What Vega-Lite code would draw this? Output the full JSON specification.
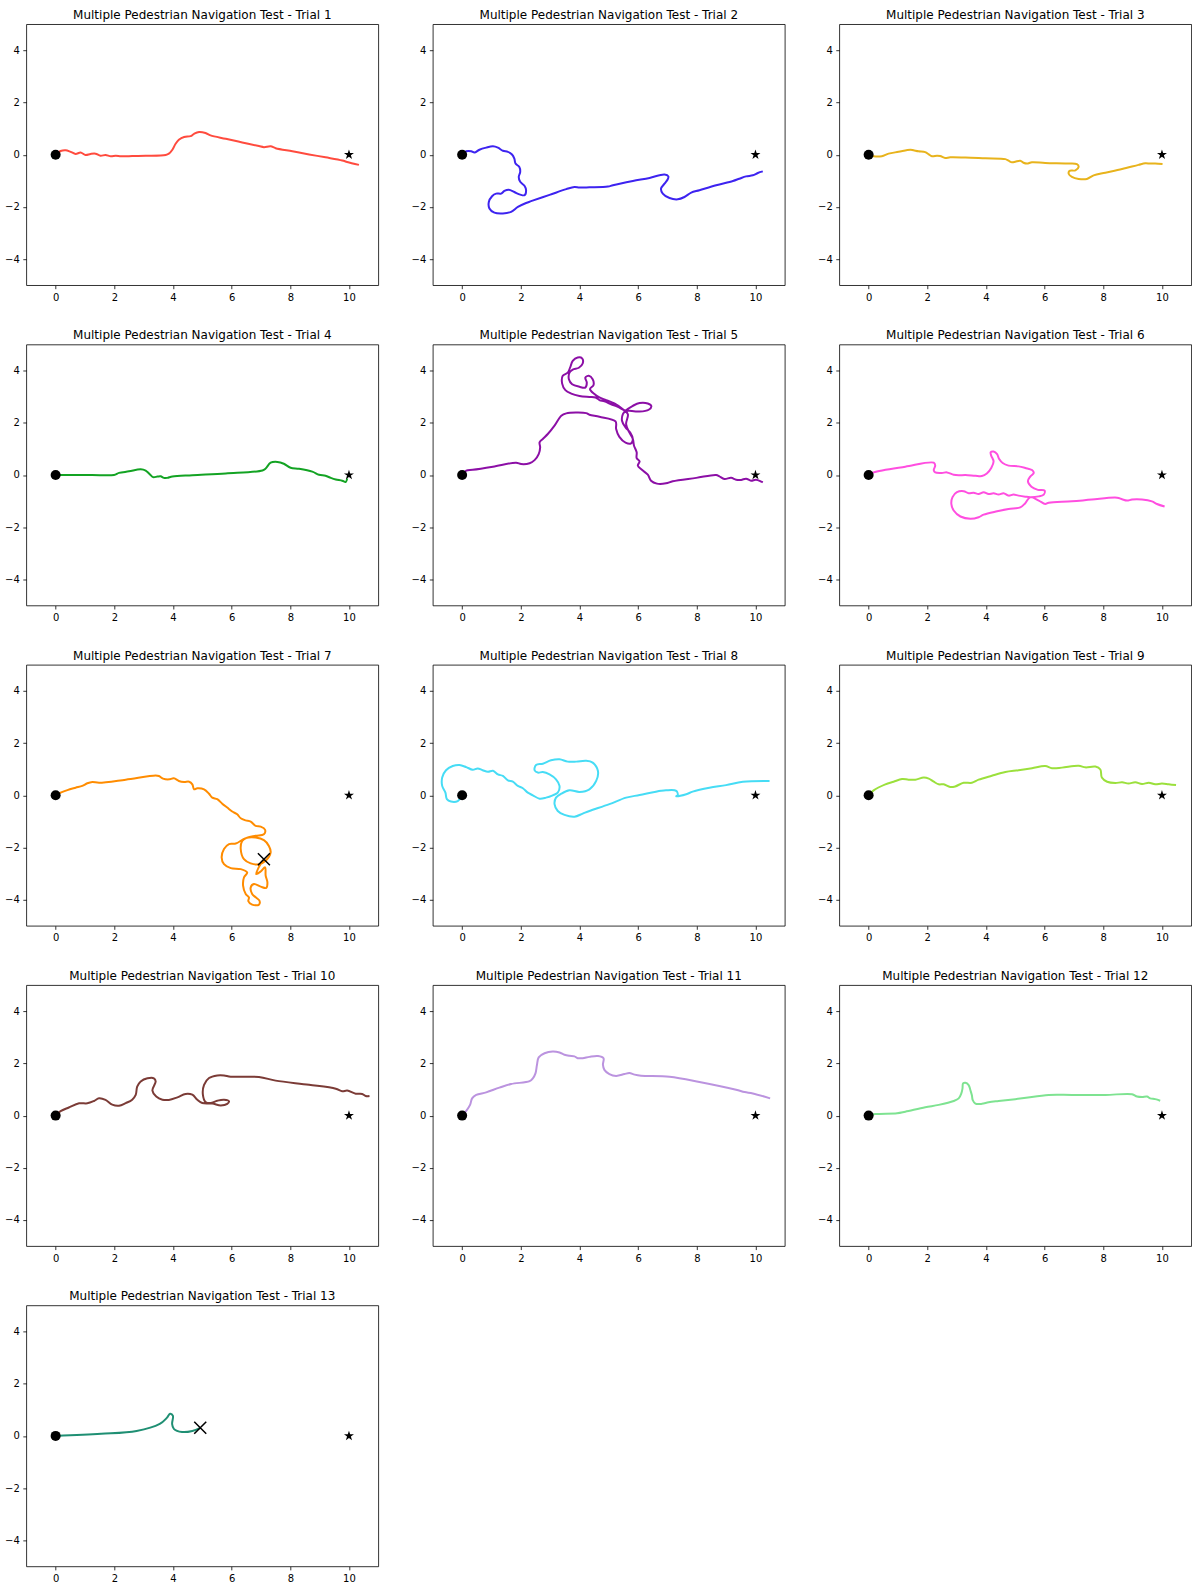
{
"$schema":"https://vega.github.io/schema/vega-lite/v6.json",
"padding":{"left":3.3,"top":8.2,"right":0,"bottom":0},
"background":"white",
"data":{"values":[
{"t":1,"i":0,"x":0,"y":0},{"t":1,"i":1,"x":0.17,"y":0.14},{"t":1,"i":2,"x":0.34,"y":0.17},{"t":1,"i":3,"x":0.51,"y":0.11},{"t":1,"i":4,"x":0.68,"y":0.03},{"t":1,"i":5,"x":0.85,"y":0.08},{"t":1,"i":6,"x":1.02,"y":-0.01},{"t":1,"i":7,"x":1.19,"y":0.03},{"t":1,"i":8,"x":1.36,"y":0.04},{"t":1,"i":9,"x":1.53,"y":-0.04},{"t":1,"i":10,"x":1.70,"y":-0.01},{"t":1,"i":11,"x":1.88,"y":-0.06},{"t":1,"i":12,"x":2.05,"y":-0.04},{"t":1,"i":13,"x":2.22,"y":-0.06},{"t":1,"i":14,"x":2.39,"y":-0.06},{"t":1,"i":15,"x":2.61,"y":-0.05},{"t":1,"i":16,"x":3.07,"y":-0.04},{"t":1,"i":17,"x":3.75,"y":-0.01},{"t":1,"i":18,"x":3.86,"y":0.04},{"t":1,"i":19,"x":3.98,"y":0.19},{"t":1,"i":20,"x":4.09,"y":0.42},{"t":1,"i":21,"x":4.20,"y":0.57},{"t":1,"i":22,"x":4.38,"y":0.68},{"t":1,"i":23,"x":4.60,"y":0.71},{"t":1,"i":24,"x":4.72,"y":0.80},{"t":1,"i":25,"x":4.89,"y":0.87},{"t":1,"i":26,"x":5.11,"y":0.83},{"t":1,"i":27,"x":5.28,"y":0.74},{"t":1,"i":28,"x":5.80,"y":0.61},{"t":1,"i":29,"x":6.36,"y":0.47},{"t":1,"i":30,"x":6.93,"y":0.33},{"t":1,"i":31,"x":7.10,"y":0.29},{"t":1,"i":32,"x":7.33,"y":0.32},{"t":1,"i":33,"x":7.50,"y":0.25},{"t":1,"i":34,"x":8.07,"y":0.13},{"t":1,"i":35,"x":8.64,"y":0.01},{"t":1,"i":36,"x":9.20,"y":-0.10},{"t":1,"i":37,"x":9.77,"y":-0.22},{"t":1,"i":38,"x":9.94,"y":-0.28},{"t":1,"i":39,"x":10.34,"y":-0.39},
{"t":2,"i":0,"x":0,"y":0},{"t":2,"i":1,"x":0.14,"y":0.13},{"t":2,"i":2,"x":0.31,"y":0.13},{"t":2,"i":3,"x":0.42,"y":0.08},{"t":2,"i":4,"x":0.59,"y":0.19},{"t":2,"i":5,"x":0.82,"y":0.27},{"t":2,"i":6,"x":1.05,"y":0.32},{"t":2,"i":7,"x":1.22,"y":0.27},{"t":2,"i":8,"x":1.39,"y":0.15},{"t":2,"i":9,"x":1.56,"y":0.11},{"t":2,"i":10,"x":1.70,"y":0.01},{"t":2,"i":11,"x":1.78,"y":-0.15},{"t":2,"i":12,"x":1.82,"y":-0.34},{"t":2,"i":13,"x":1.95,"y":-0.47},{"t":2,"i":14,"x":1.98,"y":-0.66},{"t":2,"i":15,"x":1.93,"y":-0.85},{"t":2,"i":16,"x":1.98,"y":-1.04},{"t":2,"i":17,"x":2.13,"y":-1.20},{"t":2,"i":18,"x":2.18,"y":-1.36},{"t":2,"i":19,"x":2.13,"y":-1.55},{"t":2,"i":20,"x":1.98,"y":-1.53},{"t":2,"i":21,"x":1.78,"y":-1.43},{"t":2,"i":22,"x":1.59,"y":-1.34},{"t":2,"i":23,"x":1.44,"y":-1.39},{"t":2,"i":24,"x":1.33,"y":-1.49},{"t":2,"i":25,"x":1.16,"y":-1.49},{"t":2,"i":26,"x":1.02,"y":-1.59},{"t":2,"i":27,"x":0.91,"y":-1.81},{"t":2,"i":28,"x":0.93,"y":-2.06},{"t":2,"i":29,"x":1.10,"y":-2.22},{"t":2,"i":30,"x":1.39,"y":-2.25},{"t":2,"i":31,"x":1.67,"y":-2.19},{"t":2,"i":32,"x":1.90,"y":-2.00},{"t":2,"i":33,"x":2.18,"y":-1.85},{"t":2,"i":34,"x":2.35,"y":-1.78},{"t":2,"i":35,"x":2.98,"y":-1.54},{"t":2,"i":36,"x":3.55,"y":-1.32},{"t":2,"i":37,"x":3.83,"y":-1.24},{"t":2,"i":38,"x":4.00,"y":-1.26},{"t":2,"i":39,"x":4.34,"y":-1.25},{"t":2,"i":40,"x":4.97,"y":-1.22},{"t":2,"i":41,"x":5.14,"y":-1.17},{"t":2,"i":42,"x":5.82,"y":-1.01},{"t":2,"i":43,"x":6.39,"y":-0.89},{"t":2,"i":44,"x":6.90,"y":-0.76},{"t":2,"i":45,"x":7.03,"y":-0.83},{"t":2,"i":46,"x":7.01,"y":-0.94},{"t":2,"i":47,"x":6.90,"y":-1.11},{"t":2,"i":48,"x":6.78,"y":-1.30},{"t":2,"i":49,"x":6.84,"y":-1.49},{"t":2,"i":50,"x":7.07,"y":-1.66},{"t":2,"i":51,"x":7.35,"y":-1.71},{"t":2,"i":52,"x":7.58,"y":-1.62},{"t":2,"i":53,"x":7.81,"y":-1.45},{"t":2,"i":54,"x":8.09,"y":-1.36},{"t":2,"i":55,"x":8.66,"y":-1.17},{"t":2,"i":56,"x":9.23,"y":-1.01},{"t":2,"i":57,"x":9.45,"y":-0.92},{"t":2,"i":58,"x":9.68,"y":-0.83},{"t":2,"i":59,"x":9.91,"y":-0.79},{"t":2,"i":60,"x":10.08,"y":-0.70},{"t":2,"i":61,"x":10.25,"y":-0.64},
{"t":3,"i":0,"x":0,"y":0},{"t":3,"i":1,"x":0.17,"y":-0.06},{"t":3,"i":2,"x":0.45,"y":-0.06},{"t":3,"i":3,"x":0.68,"y":0.04},{"t":3,"i":4,"x":1.02,"y":0.11},{"t":3,"i":5,"x":1.42,"y":0.19},{"t":3,"i":6,"x":1.53,"y":0.17},{"t":3,"i":7,"x":1.70,"y":0.13},{"t":3,"i":8,"x":1.93,"y":0.10},{"t":3,"i":9,"x":2.05,"y":0.01},{"t":3,"i":10,"x":2.16,"y":-0.06},{"t":3,"i":11,"x":2.33,"y":-0.04},{"t":3,"i":12,"x":2.44,"y":-0.05},{"t":3,"i":13,"x":2.61,"y":-0.13},{"t":3,"i":14,"x":2.78,"y":-0.10},{"t":3,"i":15,"x":3.30,"y":-0.11},{"t":3,"i":16,"x":3.98,"y":-0.14},{"t":3,"i":17,"x":4.66,"y":-0.17},{"t":3,"i":18,"x":4.77,"y":-0.23},{"t":3,"i":19,"x":4.89,"y":-0.29},{"t":3,"i":20,"x":5.00,"y":-0.27},{"t":3,"i":21,"x":5.17,"y":-0.23},{"t":3,"i":22,"x":5.28,"y":-0.31},{"t":3,"i":23,"x":5.40,"y":-0.34},{"t":3,"i":24,"x":5.57,"y":-0.29},{"t":3,"i":25,"x":6.02,"y":-0.32},{"t":3,"i":26,"x":6.70,"y":-0.34},{"t":3,"i":27,"x":7.10,"y":-0.36},{"t":3,"i":28,"x":7.16,"y":-0.47},{"t":3,"i":29,"x":7.05,"y":-0.60},{"t":3,"i":30,"x":6.85,"y":-0.62},{"t":3,"i":31,"x":6.82,"y":-0.73},{"t":3,"i":32,"x":6.93,"y":-0.85},{"t":3,"i":33,"x":7.16,"y":-0.93},{"t":3,"i":34,"x":7.44,"y":-0.93},{"t":3,"i":35,"x":7.67,"y":-0.79},{"t":3,"i":36,"x":8.07,"y":-0.69},{"t":3,"i":37,"x":8.64,"y":-0.55},{"t":3,"i":38,"x":9.20,"y":-0.39},{"t":3,"i":39,"x":9.43,"y":-0.33},{"t":3,"i":40,"x":9.60,"y":-0.34},{"t":3,"i":41,"x":9.77,"y":-0.34},{"t":3,"i":42,"x":10.02,"y":-0.36},
{"t":4,"i":0,"x":0,"y":0},{"t":4,"i":1,"x":0.68,"y":0},{"t":4,"i":2,"x":1.25,"y":0},{"t":4,"i":3,"x":1.99,"y":0},{"t":4,"i":4,"x":2.16,"y":0.08},{"t":4,"i":5,"x":2.50,"y":0.14},{"t":4,"i":6,"x":2.90,"y":0.22},{"t":4,"i":7,"x":3.07,"y":0.17},{"t":4,"i":8,"x":3.20,"y":0.04},{"t":4,"i":9,"x":3.32,"y":-0.08},{"t":4,"i":10,"x":3.47,"y":-0.06},{"t":4,"i":11,"x":3.58,"y":-0.05},{"t":4,"i":12,"x":3.69,"y":-0.11},{"t":4,"i":13,"x":3.81,"y":-0.11},{"t":4,"i":14,"x":3.98,"y":-0.06},{"t":4,"i":15,"x":4.66,"y":-0.01},{"t":4,"i":16,"x":5.80,"y":0.06},{"t":4,"i":17,"x":7.05,"y":0.17},{"t":4,"i":18,"x":7.16,"y":0.25},{"t":4,"i":19,"x":7.33,"y":0.47},{"t":4,"i":20,"x":7.56,"y":0.50},{"t":4,"i":21,"x":7.78,"y":0.43},{"t":4,"i":22,"x":8.01,"y":0.28},{"t":4,"i":23,"x":8.30,"y":0.24},{"t":4,"i":24,"x":8.75,"y":0.13},{"t":4,"i":25,"x":8.98,"y":0.01},{"t":4,"i":26,"x":9.20,"y":-0.03},{"t":4,"i":27,"x":9.38,"y":-0.11},{"t":4,"i":28,"x":9.55,"y":-0.17},{"t":4,"i":29,"x":9.77,"y":-0.22},{"t":4,"i":30,"x":9.89,"y":-0.27},{"t":4,"i":31,"x":9.94,"y":-0.13},
{"t":5,"i":0,"x":0,"y":0},{"t":5,"i":1,"x":0.14,"y":0.17},{"t":5,"i":2,"x":0.36,"y":0.20},{"t":5,"i":3,"x":1.05,"y":0.32},{"t":5,"i":4,"x":1.84,"y":0.47},{"t":5,"i":5,"x":2.01,"y":0.42},{"t":5,"i":6,"x":2.30,"y":0.45},{"t":5,"i":7,"x":2.47,"y":0.57},{"t":5,"i":8,"x":2.61,"y":0.80},{"t":5,"i":9,"x":2.66,"y":1.06},{"t":5,"i":10,"x":2.64,"y":1.25},{"t":5,"i":11,"x":2.75,"y":1.38},{"t":5,"i":12,"x":2.92,"y":1.57},{"t":5,"i":13,"x":3.15,"y":1.89},{"t":5,"i":14,"x":3.38,"y":2.27},{"t":5,"i":15,"x":3.55,"y":2.36},{"t":5,"i":16,"x":3.89,"y":2.39},{"t":5,"i":17,"x":4.23,"y":2.37},{"t":5,"i":18,"x":4.34,"y":2.31},{"t":5,"i":19,"x":4.68,"y":2.23},{"t":5,"i":20,"x":5.23,"y":2.05},{"t":5,"i":21,"x":5.25,"y":1.76},{"t":5,"i":22,"x":5.36,"y":1.46},{"t":5,"i":23,"x":5.57,"y":1.24},{"t":5,"i":24,"x":5.76,"y":1.21},{"t":5,"i":25,"x":5.82,"y":1.38},{"t":5,"i":26,"x":5.73,"y":1.63},{"t":5,"i":27,"x":5.57,"y":1.82},{"t":5,"i":28,"x":5.45,"y":2.08},{"t":5,"i":29,"x":5.48,"y":2.33},{"t":5,"i":30,"x":5.57,"y":2.46},{"t":5,"i":31,"x":5.82,"y":2.65},{"t":5,"i":32,"x":6.05,"y":2.76},{"t":5,"i":33,"x":6.33,"y":2.74},{"t":5,"i":34,"x":6.45,"y":2.64},{"t":5,"i":35,"x":6.36,"y":2.50},{"t":5,"i":36,"x":6.05,"y":2.43},{"t":5,"i":37,"x":5.70,"y":2.46},{"t":5,"i":38,"x":5.53,"y":2.48},{"t":5,"i":39,"x":5.31,"y":2.61},{"t":5,"i":40,"x":5.08,"y":2.71},{"t":5,"i":41,"x":4.85,"y":2.82},{"t":5,"i":42,"x":4.68,"y":2.87},{"t":5,"i":43,"x":4.55,"y":2.97},{"t":5,"i":44,"x":4.34,"y":2.99},{"t":5,"i":45,"x":4.00,"y":3.03},{"t":5,"i":46,"x":3.72,"y":3.12},{"t":5,"i":47,"x":3.52,"y":3.25},{"t":5,"i":48,"x":3.41,"y":3.50},{"t":5,"i":49,"x":3.43,"y":3.80},{"t":5,"i":50,"x":3.60,"y":3.92},{"t":5,"i":51,"x":3.68,"y":4.11},{"t":5,"i":52,"x":3.77,"y":4.37},{"t":5,"i":53,"x":3.94,"y":4.50},{"t":5,"i":54,"x":4.09,"y":4.47},{"t":5,"i":55,"x":4.11,"y":4.27},{"t":5,"i":56,"x":3.98,"y":4.11},{"t":5,"i":57,"x":3.77,"y":4.04},{"t":5,"i":58,"x":3.66,"y":3.92},{"t":5,"i":59,"x":3.64,"y":3.67},{"t":5,"i":60,"x":3.75,"y":3.48},{"t":5,"i":61,"x":4.00,"y":3.38},{"t":5,"i":62,"x":4.20,"y":3.35},{"t":5,"i":63,"x":4.25,"y":3.54},{"t":5,"i":64,"x":4.20,"y":3.73},{"t":5,"i":65,"x":4.32,"y":3.80},{"t":5,"i":66,"x":4.45,"y":3.67},{"t":5,"i":67,"x":4.48,"y":3.45},{"t":5,"i":68,"x":4.36,"y":3.29},{"t":5,"i":69,"x":4.51,"y":3.10},{"t":5,"i":70,"x":4.68,"y":2.97},{"t":5,"i":71,"x":4.91,"y":2.87},{"t":5,"i":72,"x":5.19,"y":2.74},{"t":5,"i":73,"x":5.48,"y":2.52},{"t":5,"i":74,"x":5.65,"y":2.33},{"t":5,"i":75,"x":5.59,"y":1.95},{"t":5,"i":76,"x":5.70,"y":1.63},{"t":5,"i":77,"x":5.82,"y":1.38},{"t":5,"i":78,"x":5.86,"y":1.12},{"t":5,"i":79,"x":5.95,"y":0.87},{"t":5,"i":80,"x":5.95,"y":0.65},{"t":5,"i":81,"x":6.05,"y":0.52},{"t":5,"i":82,"x":5.99,"y":0.36},{"t":5,"i":83,"x":6.14,"y":0.19},{"t":5,"i":84,"x":6.33,"y":0.01},{"t":5,"i":85,"x":6.44,"y":-0.22},{"t":5,"i":86,"x":6.64,"y":-0.33},{"t":5,"i":87,"x":6.95,"y":-0.32},{"t":5,"i":88,"x":7.18,"y":-0.24},{"t":5,"i":89,"x":7.98,"y":-0.11},{"t":5,"i":90,"x":8.66,"y":0},{"t":5,"i":91,"x":8.77,"y":-0.05},{"t":5,"i":92,"x":8.94,"y":-0.15},{"t":5,"i":93,"x":9.17,"y":-0.11},{"t":5,"i":94,"x":9.34,"y":-0.18},{"t":5,"i":95,"x":9.51,"y":-0.19},{"t":5,"i":96,"x":9.68,"y":-0.14},{"t":5,"i":97,"x":9.85,"y":-0.22},{"t":5,"i":98,"x":10.02,"y":-0.18},{"t":5,"i":99,"x":10.25,"y":-0.28},
{"t":6,"i":0,"x":0,"y":0},{"t":6,"i":1,"x":0.17,"y":0.10},{"t":6,"i":2,"x":1.25,"y":0.32},{"t":6,"i":3,"x":2.22,"y":0.47},{"t":6,"i":4,"x":2.27,"y":0.36},{"t":6,"i":5,"x":2.22,"y":0.19},{"t":6,"i":6,"x":2.27,"y":0.10},{"t":6,"i":7,"x":2.50,"y":0.08},{"t":6,"i":8,"x":2.67,"y":0.10},{"t":6,"i":9,"x":2.90,"y":0.01},{"t":6,"i":10,"x":3.07,"y":-0.01},{"t":6,"i":11,"x":3.30,"y":0},{"t":6,"i":12,"x":3.64,"y":-0.03},{"t":6,"i":13,"x":3.86,"y":-0.04},{"t":6,"i":14,"x":4.03,"y":0.06},{"t":6,"i":15,"x":4.18,"y":0.27},{"t":6,"i":16,"x":4.26,"y":0.52},{"t":6,"i":17,"x":4.18,"y":0.74},{"t":6,"i":18,"x":4.16,"y":0.87},{"t":6,"i":19,"x":4.26,"y":0.90},{"t":6,"i":20,"x":4.38,"y":0.80},{"t":6,"i":21,"x":4.45,"y":0.61},{"t":6,"i":22,"x":4.57,"y":0.46},{"t":6,"i":23,"x":4.77,"y":0.36},{"t":6,"i":24,"x":5.11,"y":0.33},{"t":6,"i":25,"x":5.34,"y":0.27},{"t":6,"i":26,"x":5.57,"y":0.19},{"t":6,"i":27,"x":5.63,"y":0.08},{"t":6,"i":28,"x":5.51,"y":-0.06},{"t":6,"i":29,"x":5.43,"y":-0.24},{"t":6,"i":30,"x":5.55,"y":-0.45},{"t":6,"i":31,"x":5.77,"y":-0.57},{"t":6,"i":32,"x":6.00,"y":-0.60},{"t":6,"i":33,"x":5.97,"y":-0.75},{"t":6,"i":34,"x":5.80,"y":-0.82},{"t":6,"i":35,"x":5.51,"y":-0.85},{"t":6,"i":36,"x":5.34,"y":-0.83},{"t":6,"i":37,"x":5.11,"y":-0.79},{"t":6,"i":38,"x":4.94,"y":-0.75},{"t":6,"i":39,"x":4.77,"y":-0.79},{"t":6,"i":40,"x":4.60,"y":-0.70},{"t":6,"i":41,"x":4.43,"y":-0.75},{"t":6,"i":42,"x":4.26,"y":-0.70},{"t":6,"i":43,"x":4.09,"y":-0.73},{"t":6,"i":44,"x":3.92,"y":-0.66},{"t":6,"i":45,"x":3.75,"y":-0.73},{"t":6,"i":46,"x":3.58,"y":-0.68},{"t":6,"i":47,"x":3.41,"y":-0.70},{"t":6,"i":48,"x":3.24,"y":-0.62},{"t":6,"i":49,"x":3.01,"y":-0.66},{"t":6,"i":50,"x":2.86,"y":-0.85},{"t":6,"i":51,"x":2.82,"y":-1.11},{"t":6,"i":52,"x":2.90,"y":-1.36},{"t":6,"i":53,"x":3.13,"y":-1.59},{"t":6,"i":54,"x":3.47,"y":-1.68},{"t":6,"i":55,"x":3.75,"y":-1.62},{"t":6,"i":56,"x":3.92,"y":-1.52},{"t":6,"i":57,"x":4.38,"y":-1.39},{"t":6,"i":58,"x":4.77,"y":-1.30},{"t":6,"i":59,"x":5.17,"y":-1.24},{"t":6,"i":60,"x":5.34,"y":-1.08},{"t":6,"i":61,"x":5.51,"y":-0.85},{"t":6,"i":62,"x":5.80,"y":-0.98},{"t":6,"i":63,"x":6.02,"y":-1.11},{"t":6,"i":64,"x":6.14,"y":-1.06},{"t":6,"i":65,"x":6.93,"y":-1.01},{"t":6,"i":66,"x":7.61,"y":-0.94},{"t":6,"i":67,"x":8.47,"y":-0.87},{"t":6,"i":68,"x":8.64,"y":-0.93},{"t":6,"i":69,"x":8.81,"y":-0.98},{"t":6,"i":70,"x":8.98,"y":-0.94},{"t":6,"i":71,"x":9.32,"y":-0.94},{"t":6,"i":72,"x":9.66,"y":-1.01},{"t":6,"i":73,"x":9.83,"y":-1.11},{"t":6,"i":74,"x":10.09,"y":-1.21},
{"t":7,"i":0,"x":0,"y":0},{"t":7,"i":1,"x":0.17,"y":0.10},{"t":7,"i":2,"x":0.40,"y":0.20},{"t":7,"i":3,"x":0.68,"y":0.29},{"t":7,"i":4,"x":0.91,"y":0.36},{"t":7,"i":5,"x":1.08,"y":0.46},{"t":7,"i":6,"x":1.25,"y":0.51},{"t":7,"i":7,"x":1.48,"y":0.48},{"t":7,"i":8,"x":2.39,"y":0.60},{"t":7,"i":9,"x":3.41,"y":0.76},{"t":7,"i":10,"x":3.52,"y":0.74},{"t":7,"i":11,"x":3.66,"y":0.64},{"t":7,"i":12,"x":3.86,"y":0.61},{"t":7,"i":13,"x":4.03,"y":0.65},{"t":7,"i":14,"x":4.20,"y":0.55},{"t":7,"i":15,"x":4.38,"y":0.51},{"t":7,"i":16,"x":4.55,"y":0.52},{"t":7,"i":17,"x":4.66,"y":0.42},{"t":7,"i":18,"x":4.72,"y":0.23},{"t":7,"i":19,"x":4.83,"y":0.27},{"t":7,"i":20,"x":5.06,"y":0.23},{"t":7,"i":21,"x":5.23,"y":0.06},{"t":7,"i":22,"x":5.34,"y":-0.09},{"t":7,"i":23,"x":5.51,"y":-0.15},{"t":7,"i":24,"x":5.68,"y":-0.32},{"t":7,"i":25,"x":5.85,"y":-0.47},{"t":7,"i":26,"x":6.02,"y":-0.62},{"t":7,"i":27,"x":6.19,"y":-0.73},{"t":7,"i":28,"x":6.31,"y":-0.88},{"t":7,"i":29,"x":6.48,"y":-0.96},{"t":7,"i":30,"x":6.65,"y":-1.01},{"t":7,"i":31,"x":6.82,"y":-1.17},{"t":7,"i":32,"x":6.99,"y":-1.20},{"t":7,"i":33,"x":7.14,"y":-1.32},{"t":7,"i":34,"x":7.10,"y":-1.49},{"t":7,"i":35,"x":6.82,"y":-1.55},{"t":7,"i":36,"x":6.53,"y":-1.62},{"t":7,"i":37,"x":6.36,"y":-1.75},{"t":7,"i":38,"x":6.31,"y":-2.06},{"t":7,"i":39,"x":6.42,"y":-2.45},{"t":7,"i":40,"x":6.65,"y":-2.61},{"t":7,"i":41,"x":6.93,"y":-2.64},{"t":7,"i":42,"x":7.16,"y":-2.51},{"t":7,"i":43,"x":7.33,"y":-2.19},{"t":7,"i":44,"x":7.27,"y":-1.94},{"t":7,"i":45,"x":7.10,"y":-1.72},{"t":7,"i":46,"x":6.82,"y":-1.62},{"t":7,"i":47,"x":6.48,"y":-1.64},{"t":7,"i":48,"x":6.14,"y":-1.85},{"t":7,"i":49,"x":5.91,"y":-1.87},{"t":7,"i":50,"x":5.74,"y":-2.06},{"t":7,"i":51,"x":5.66,"y":-2.38},{"t":7,"i":52,"x":5.74,"y":-2.64},{"t":7,"i":53,"x":5.97,"y":-2.79},{"t":7,"i":54,"x":6.31,"y":-2.83},{"t":7,"i":55,"x":6.53,"y":-2.96},{"t":7,"i":56,"x":6.42,"y":-3.15},{"t":7,"i":57,"x":6.39,"y":-3.46},{"t":7,"i":58,"x":6.48,"y":-3.78},{"t":7,"i":59,"x":6.59,"y":-3.91},{"t":7,"i":60,"x":6.57,"y":-4.06},{"t":7,"i":61,"x":6.70,"y":-4.19},{"t":7,"i":62,"x":6.93,"y":-4.19},{"t":7,"i":63,"x":6.95,"y":-4.04},{"t":7,"i":64,"x":6.82,"y":-3.91},{"t":7,"i":65,"x":6.70,"y":-3.78},{"t":7,"i":66,"x":6.65,"y":-3.53},{"t":7,"i":67,"x":6.76,"y":-3.40},{"t":7,"i":68,"x":6.99,"y":-3.50},{"t":7,"i":69,"x":7.18,"y":-3.55},{"t":7,"i":70,"x":7.22,"y":-3.34},{"t":7,"i":71,"x":7.16,"y":-3.08},{"t":7,"i":72,"x":7.14,"y":-2.76},{"t":7,"i":73,"x":6.99,"y":-2.92},{"t":7,"i":74,"x":6.84,"y":-3.02},{"t":7,"i":75,"x":6.91,"y":-2.79},{"t":7,"i":76,"x":7.10,"y":-2.45},
{"t":8,"i":0,"x":0,"y":0},{"t":8,"i":1,"x":-0.15,"y":-0.22},{"t":8,"i":2,"x":-0.38,"y":-0.24},{"t":8,"i":3,"x":-0.52,"y":-0.15},{"t":8,"i":4,"x":-0.57,"y":0.10},{"t":8,"i":5,"x":-0.68,"y":0.36},{"t":8,"i":6,"x":-0.68,"y":0.68},{"t":8,"i":7,"x":-0.55,"y":0.96},{"t":8,"i":8,"x":-0.32,"y":1.12},{"t":8,"i":9,"x":-0.09,"y":1.16},{"t":8,"i":10,"x":0.14,"y":1.08},{"t":8,"i":11,"x":0.36,"y":0.98},{"t":8,"i":12,"x":0.53,"y":1.03},{"t":8,"i":13,"x":0.70,"y":0.96},{"t":8,"i":14,"x":0.88,"y":0.90},{"t":8,"i":15,"x":1.05,"y":0.94},{"t":8,"i":16,"x":1.22,"y":0.80},{"t":8,"i":17,"x":1.39,"y":0.74},{"t":8,"i":18,"x":1.56,"y":0.57},{"t":8,"i":19,"x":1.73,"y":0.52},{"t":8,"i":20,"x":1.90,"y":0.36},{"t":8,"i":21,"x":2.07,"y":0.27},{"t":8,"i":22,"x":2.24,"y":0.10},{"t":8,"i":23,"x":2.41,"y":0},{"t":8,"i":24,"x":2.64,"y":-0.13},{"t":8,"i":25,"x":2.86,"y":-0.09},{"t":8,"i":26,"x":3.09,"y":0},{"t":8,"i":27,"x":3.26,"y":0.10},{"t":8,"i":28,"x":3.32,"y":0.36},{"t":8,"i":29,"x":3.20,"y":0.61},{"t":8,"i":30,"x":2.98,"y":0.80},{"t":8,"i":31,"x":2.75,"y":0.89},{"t":8,"i":32,"x":2.58,"y":0.87},{"t":8,"i":33,"x":2.47,"y":0.96},{"t":8,"i":34,"x":2.52,"y":1.16},{"t":8,"i":35,"x":2.75,"y":1.21},{"t":8,"i":36,"x":3.03,"y":1.34},{"t":8,"i":37,"x":3.32,"y":1.38},{"t":8,"i":38,"x":3.60,"y":1.29},{"t":8,"i":39,"x":3.89,"y":1.29},{"t":8,"i":40,"x":4.23,"y":1.32},{"t":8,"i":41,"x":4.45,"y":1.25},{"t":8,"i":42,"x":4.63,"y":0.93},{"t":8,"i":43,"x":4.57,"y":0.55},{"t":8,"i":44,"x":4.34,"y":0.23},{"t":8,"i":45,"x":4.00,"y":0.13},{"t":8,"i":46,"x":3.66,"y":0.19},{"t":8,"i":47,"x":3.38,"y":0.06},{"t":8,"i":48,"x":3.20,"y":-0.09},{"t":8,"i":49,"x":3.15,"y":-0.34},{"t":8,"i":50,"x":3.26,"y":-0.60},{"t":8,"i":51,"x":3.49,"y":-0.75},{"t":8,"i":52,"x":3.83,"y":-0.82},{"t":8,"i":53,"x":4.11,"y":-0.70},{"t":8,"i":54,"x":4.34,"y":-0.60},{"t":8,"i":55,"x":5.02,"y":-0.34},{"t":8,"i":56,"x":5.59,"y":-0.09},{"t":8,"i":57,"x":6.05,"y":0.01},{"t":8,"i":58,"x":6.78,"y":0.17},{"t":8,"i":59,"x":6.95,"y":0.19},{"t":8,"i":60,"x":7.30,"y":0.17},{"t":8,"i":61,"x":7.35,"y":0.01},{"t":8,"i":62,"x":7.30,"y":-0.04},{"t":8,"i":63,"x":7.64,"y":0.04},{"t":8,"i":64,"x":7.86,"y":0.14},{"t":8,"i":65,"x":8.43,"y":0.29},{"t":8,"i":66,"x":9.00,"y":0.39},{"t":8,"i":67,"x":9.57,"y":0.52},{"t":8,"i":68,"x":10.48,"y":0.55},
{"t":9,"i":0,"x":0,"y":0},{"t":9,"i":1,"x":0.17,"y":0.19},{"t":9,"i":2,"x":0.57,"y":0.42},{"t":9,"i":3,"x":0.85,"y":0.52},{"t":9,"i":4,"x":1.14,"y":0.62},{"t":9,"i":5,"x":1.36,"y":0.60},{"t":9,"i":6,"x":1.59,"y":0.60},{"t":9,"i":7,"x":1.88,"y":0.68},{"t":9,"i":8,"x":2.05,"y":0.64},{"t":9,"i":9,"x":2.22,"y":0.52},{"t":9,"i":10,"x":2.39,"y":0.42},{"t":9,"i":11,"x":2.56,"y":0.42},{"t":9,"i":12,"x":2.78,"y":0.32},{"t":9,"i":13,"x":2.95,"y":0.34},{"t":9,"i":14,"x":3.24,"y":0.48},{"t":9,"i":15,"x":3.52,"y":0.48},{"t":9,"i":16,"x":3.75,"y":0.60},{"t":9,"i":17,"x":4.20,"y":0.75},{"t":9,"i":18,"x":4.66,"y":0.89},{"t":9,"i":19,"x":5.11,"y":0.96},{"t":9,"i":20,"x":5.57,"y":1.04},{"t":9,"i":21,"x":6.02,"y":1.12},{"t":9,"i":22,"x":6.25,"y":1.04},{"t":9,"i":23,"x":6.59,"y":1.06},{"t":9,"i":24,"x":7.16,"y":1.13},{"t":9,"i":25,"x":7.39,"y":1.07},{"t":9,"i":26,"x":7.73,"y":1.10},{"t":9,"i":27,"x":7.90,"y":0.99},{"t":9,"i":28,"x":7.95,"y":0.68},{"t":9,"i":29,"x":8.13,"y":0.52},{"t":9,"i":30,"x":8.41,"y":0.47},{"t":9,"i":31,"x":8.64,"y":0.50},{"t":9,"i":32,"x":8.86,"y":0.45},{"t":9,"i":33,"x":9.09,"y":0.50},{"t":9,"i":34,"x":9.32,"y":0.43},{"t":9,"i":35,"x":9.55,"y":0.48},{"t":9,"i":36,"x":9.77,"y":0.42},{"t":9,"i":37,"x":10.00,"y":0.45},{"t":9,"i":38,"x":10.23,"y":0.42},{"t":9,"i":39,"x":10.48,"y":0.39},
{"t":10,"i":0,"x":0,"y":0.01},{"t":10,"i":1,"x":0.17,"y":0.17},{"t":10,"i":2,"x":0.45,"y":0.31},{"t":10,"i":3,"x":0.80,"y":0.47},{"t":10,"i":4,"x":1.08,"y":0.47},{"t":10,"i":5,"x":1.31,"y":0.56},{"t":10,"i":6,"x":1.48,"y":0.66},{"t":10,"i":7,"x":1.70,"y":0.60},{"t":10,"i":8,"x":1.93,"y":0.42},{"t":10,"i":9,"x":2.16,"y":0.38},{"t":10,"i":10,"x":2.39,"y":0.48},{"t":10,"i":11,"x":2.61,"y":0.61},{"t":10,"i":12,"x":2.73,"y":0.79},{"t":10,"i":13,"x":2.78,"y":1.11},{"t":10,"i":14,"x":2.90,"y":1.31},{"t":10,"i":15,"x":3.13,"y":1.43},{"t":10,"i":16,"x":3.35,"y":1.43},{"t":10,"i":17,"x":3.41,"y":1.31},{"t":10,"i":18,"x":3.30,"y":0.96},{"t":10,"i":19,"x":3.43,"y":0.73},{"t":10,"i":20,"x":3.64,"y":0.61},{"t":10,"i":21,"x":3.86,"y":0.60},{"t":10,"i":22,"x":4.15,"y":0.70},{"t":10,"i":23,"x":4.43,"y":0.83},{"t":10,"i":24,"x":4.66,"y":0.80},{"t":10,"i":25,"x":4.83,"y":0.61},{"t":10,"i":26,"x":5.00,"y":0.48},{"t":10,"i":27,"x":5.34,"y":0.46},{"t":10,"i":28,"x":5.63,"y":0.39},{"t":10,"i":29,"x":5.85,"y":0.45},{"t":10,"i":30,"x":5.91,"y":0.55},{"t":10,"i":31,"x":5.74,"y":0.61},{"t":10,"i":32,"x":5.51,"y":0.57},{"t":10,"i":33,"x":5.28,"y":0.48},{"t":10,"i":34,"x":5.11,"y":0.52},{"t":10,"i":35,"x":5.02,"y":0.80},{"t":10,"i":36,"x":5.06,"y":1.18},{"t":10,"i":37,"x":5.23,"y":1.44},{"t":10,"i":38,"x":5.51,"y":1.54},{"t":10,"i":39,"x":5.74,"y":1.54},{"t":10,"i":40,"x":5.97,"y":1.49},{"t":10,"i":41,"x":6.93,"y":1.48},{"t":10,"i":42,"x":7.50,"y":1.34},{"t":10,"i":43,"x":8.64,"y":1.18},{"t":10,"i":44,"x":9.55,"y":1.03},{"t":10,"i":45,"x":9.77,"y":0.93},{"t":10,"i":46,"x":9.94,"y":0.96},{"t":10,"i":47,"x":10.23,"y":0.84},{"t":10,"i":48,"x":10.45,"y":0.83},{"t":10,"i":49,"x":10.57,"y":0.75},{"t":10,"i":50,"x":10.70,"y":0.75},
{"t":11,"i":0,"x":0,"y":0.01},{"t":11,"i":1,"x":0.14,"y":0.18},{"t":11,"i":2,"x":0.27,"y":0.41},{"t":11,"i":3,"x":0.34,"y":0.66},{"t":11,"i":4,"x":0.48,"y":0.79},{"t":11,"i":5,"x":0.82,"y":0.89},{"t":11,"i":6,"x":1.27,"y":1.07},{"t":11,"i":7,"x":1.67,"y":1.21},{"t":11,"i":8,"x":2.30,"y":1.32},{"t":11,"i":9,"x":2.41,"y":1.43},{"t":11,"i":10,"x":2.50,"y":1.62},{"t":11,"i":11,"x":2.55,"y":1.94},{"t":11,"i":12,"x":2.61,"y":2.23},{"t":11,"i":13,"x":2.81,"y":2.39},{"t":11,"i":14,"x":3.09,"y":2.46},{"t":11,"i":15,"x":3.32,"y":2.42},{"t":11,"i":16,"x":3.49,"y":2.33},{"t":11,"i":17,"x":3.66,"y":2.29},{"t":11,"i":18,"x":3.83,"y":2.27},{"t":11,"i":19,"x":3.94,"y":2.20},{"t":11,"i":20,"x":4.11,"y":2.20},{"t":11,"i":21,"x":4.34,"y":2.25},{"t":11,"i":22,"x":4.63,"y":2.28},{"t":11,"i":23,"x":4.82,"y":2.20},{"t":11,"i":24,"x":4.80,"y":1.95},{"t":11,"i":25,"x":4.85,"y":1.75},{"t":11,"i":26,"x":5.02,"y":1.59},{"t":11,"i":27,"x":5.25,"y":1.52},{"t":11,"i":28,"x":5.53,"y":1.59},{"t":11,"i":29,"x":5.70,"y":1.63},{"t":11,"i":30,"x":5.88,"y":1.57},{"t":11,"i":31,"x":6.10,"y":1.53},{"t":11,"i":32,"x":7.07,"y":1.49},{"t":11,"i":33,"x":8.09,"y":1.29},{"t":11,"i":34,"x":9.34,"y":0.99},{"t":11,"i":35,"x":9.63,"y":0.90},{"t":11,"i":36,"x":9.91,"y":0.85},{"t":11,"i":37,"x":10.50,"y":0.66},
{"t":12,"i":0,"x":0,"y":0.01},{"t":12,"i":1,"x":0.23,"y":0.06},{"t":12,"i":2,"x":0.97,"y":0.09},{"t":12,"i":3,"x":1.25,"y":0.15},{"t":12,"i":4,"x":1.93,"y":0.32},{"t":12,"i":5,"x":2.39,"y":0.41},{"t":12,"i":6,"x":2.90,"y":0.56},{"t":12,"i":7,"x":3.07,"y":0.66},{"t":12,"i":8,"x":3.16,"y":0.85},{"t":12,"i":9,"x":3.20,"y":1.04},{"t":12,"i":10,"x":3.22,"y":1.23},{"t":12,"i":11,"x":3.30,"y":1.26},{"t":12,"i":12,"x":3.41,"y":1.17},{"t":12,"i":13,"x":3.47,"y":0.97},{"t":12,"i":14,"x":3.52,"y":0.78},{"t":12,"i":15,"x":3.55,"y":0.59},{"t":12,"i":16,"x":3.64,"y":0.46},{"t":12,"i":17,"x":3.86,"y":0.45},{"t":12,"i":18,"x":4.09,"y":0.51},{"t":12,"i":19,"x":4.43,"y":0.56},{"t":12,"i":20,"x":5.23,"y":0.66},{"t":12,"i":21,"x":6.14,"y":0.79},{"t":12,"i":22,"x":6.93,"y":0.79},{"t":12,"i":23,"x":8.07,"y":0.79},{"t":12,"i":24,"x":8.98,"y":0.82},{"t":12,"i":25,"x":9.15,"y":0.73},{"t":12,"i":26,"x":9.32,"y":0.71},{"t":12,"i":27,"x":9.49,"y":0.73},{"t":12,"i":28,"x":9.60,"y":0.66},{"t":12,"i":29,"x":9.77,"y":0.63},{"t":12,"i":30,"x":9.94,"y":0.57},
{"t":13,"i":0,"x":0,"y":0},{"t":13,"i":1,"x":1.55,"y":0.08},{"t":13,"i":2,"x":2.76,"y":0.19},{"t":13,"i":3,"x":3.55,"y":0.46},{"t":13,"i":4,"x":3.79,"y":0.69},{"t":13,"i":5,"x":3.90,"y":0.85},{"t":13,"i":6,"x":4.00,"y":0.77},{"t":13,"i":7,"x":3.97,"y":0.46},{"t":13,"i":8,"x":4.03,"y":0.27},{"t":13,"i":9,"x":4.31,"y":0.15},{"t":13,"i":10,"x":4.66,"y":0.19},{"t":13,"i":11,"x":4.93,"y":0.31},
{"t":1,"k":"s","x":0,"y":0},{"t":2,"k":"s","x":0,"y":0},{"t":3,"k":"s","x":0,"y":0},{"t":4,"k":"s","x":0,"y":0},{"t":5,"k":"s","x":0,"y":0},{"t":6,"k":"s","x":0,"y":0},{"t":7,"k":"s","x":0,"y":0},{"t":8,"k":"s","x":0,"y":0},{"t":9,"k":"s","x":0,"y":0},{"t":10,"k":"s","x":0,"y":0},{"t":11,"k":"s","x":0,"y":0},{"t":12,"k":"s","x":0,"y":0},{"t":13,"k":"s","x":0,"y":0},
{"t":1,"k":"g","x":10,"y":0},{"t":2,"k":"g","x":10,"y":0},{"t":3,"k":"g","x":10,"y":0},{"t":4,"k":"g","x":10,"y":0},{"t":5,"k":"g","x":10,"y":0},{"t":6,"k":"g","x":10,"y":0},{"t":7,"k":"g","x":10,"y":0},{"t":8,"k":"g","x":10,"y":0},{"t":9,"k":"g","x":10,"y":0},{"t":10,"k":"g","x":10,"y":0},{"t":11,"k":"g","x":10,"y":0},{"t":12,"k":"g","x":10,"y":0},{"t":13,"k":"g","x":10,"y":0},
{"t":7,"k":"f","x":7.10,"y":-2.45},{"t":13,"k":"f","x":4.93,"y":0.31}
]},
"facet":{"field":"t","type":"ordinal","header":{"title":null,"labelExpr":"'Multiple Pedestrian Navigation Test - Trial ' + datum.value","labelFont":"DejaVu Sans","labelFontSize":12,"labelColor":"black","labelPadding":2}},
"columns":3,
"spacing":{"column":30.5,"row":25.3},
"resolve":{"axis":{"x":"independent","y":"independent"}},
"spec":{
"width":352,"height":261,
"encoding":{
"x":{"field":"x","type":"quantitative","scale":{"domain":[-1,11],"nice":false,"zero":false},"axis":{"values":[0,2,4,6,8,10],"title":null}},
"y":{"field":"y","type":"quantitative","scale":{"domain":[-5,5],"nice":false,"zero":false},"axis":{"values":[-4,-2,0,2,4],"title":null}}
},
"layer":[
{"transform":[{"filter":"!datum.k"}],"mark":{"type":"line","strokeWidth":2,"interpolate":"catmull-rom"},
 "encoding":{"order":{"field":"i","type":"quantitative"},
 "color":{"field":"t","type":"nominal","legend":null,"scale":{"domain":[1,2,3,4,5,6,7,8,9,10,11,12,13],"range":["#ff4b3e","#3d23f0","#e8b31c","#13a323","#8c0fa6","#ff4ee0","#ff8c00","#46dcf5","#9be03c","#7b3b36","#bb93df","#7ee391","#1f8f73"]}}}},
{"transform":[{"filter":"datum.k == 's'"}],"mark":{"type":"point","shape":"circle","filled":true,"color":"black","size":100,"opacity":1}},
{"transform":[{"filter":"datum.k == 'g'"}],"mark":{"type":"point","shape":"M0,-1L0.225,-0.309L0.951,-0.309L0.363,0.118L0.588,0.809L0,0.382L-0.588,0.809L-0.363,0.118L-0.951,-0.309L-0.225,-0.309Z","filled":true,"color":"black","size":110,"opacity":1}},
{"transform":[{"filter":"datum.k == 'f'"}],"mark":{"type":"point","shape":"M-1,-1L1,1M-1,1L1,-1","filled":false,"stroke":"black","strokeWidth":1.5,"size":144,"opacity":1}}
]},
"config":{
"view":{"stroke":"black","strokeWidth":0.8},
"axis":{"domain":false,"grid":false,"ticks":true,"tickColor":"black","tickSize":3.5,"tickWidth":0.8,"labelFont":"DejaVu Sans","labelFontSize":10,"labelColor":"black","labelPadding":3.5}
}
}
